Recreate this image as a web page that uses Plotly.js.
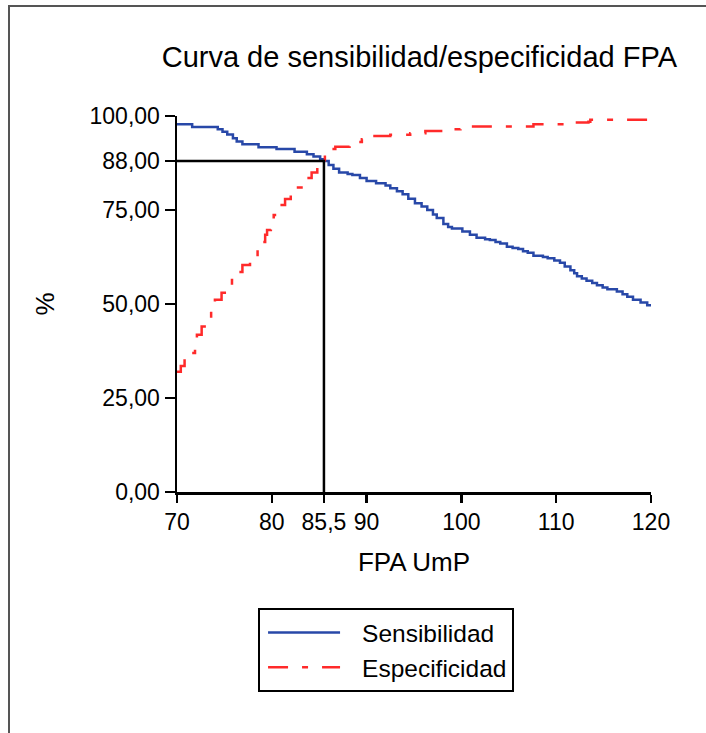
<!DOCTYPE html>
<html>
<head>
<meta charset="utf-8">
<script src="https://cdn.plot.ly/plotly-3.0.1.min.js"></script>
<style>
  html, body { margin: 0; padding: 0; background: #fff; overflow: hidden; }
  #frame { position: absolute; left: 8px; top: 5px; width: 760px; height: 800px; border: 2px solid #555; box-sizing: border-box; }
  #chart { position: absolute; left: 0; top: 0; width: 706px; height: 733px; }
</style>
</head>
<body>
<div id="frame"></div>
<div id="chart"></div>
<script>
// Sensibilidad (step curve)
const sensX = [70, 71.6, 74.3, 74.8, 75.3, 75.9, 76.3, 76.9, 78.6, 80.5, 82.4, 83.7, 84.4, 85.1, 85.5, 86.0, 86.5, 87.1, 88.0, 88.5, 89.3, 90.0, 91.0, 92.0, 92.5, 93.2, 93.8, 94.4, 95.1, 95.8, 96.4, 97.0, 97.4, 98.1, 98.6, 99.0, 100.1, 100.9, 101.6, 102.5, 103.0, 103.6, 104.1, 104.8, 105.4, 106.0, 106.5, 107.0, 107.6, 108.6, 109.1, 109.8, 110.4, 110.9, 111.5, 111.9, 112.2, 112.7, 113.2, 113.8, 114.3, 114.9, 115.4, 116.4, 117.0, 117.5, 118.1, 118.9, 119.6, 120];
const sensY = [97.8, 97.1, 96.5, 95.8, 95.1, 94.1, 93.2, 92.5, 91.7, 91.2, 90.5, 89.8, 89.2, 88.5, 88.0, 87.0, 86.0, 85.0, 84.6, 84.3, 83.5, 82.7, 82.1, 81.5, 80.8, 80.0, 79.2, 78.0, 76.8, 75.9, 75.0, 73.8, 72.9, 71.3, 70.5, 70.1, 69.3, 68.4, 67.6, 67.2, 67.0, 66.5, 66.1, 65.2, 64.9, 64.6, 64.0, 63.6, 62.8, 62.5, 62.2, 61.6, 61.0, 60.0, 59.0, 58.2, 57.4, 56.8, 56.2, 55.6, 55.0, 54.4, 53.9, 53.3, 52.6, 51.9, 51.1, 50.4, 49.7, 49.4];

// Especificidad (step curve)
const espX = [70, 70.4, 70.8, 71.2, 71.9, 72.1, 72.6, 73.2, 73.6, 74.0, 74.7, 75.4, 75.8, 76.4, 76.9, 77.7, 78.2, 78.5, 79.0, 79.3, 79.5, 79.9, 80.2, 80.6, 80.9, 81.4, 82.0, 82.6, 83.3, 83.6, 84.2, 84.8, 85.3, 85.6, 86.1, 86.7, 88.2, 88.8, 89.5, 90.4, 92.5, 94.6, 96.2, 98.1, 99.9, 107.6, 111.2, 113.4, 113.6, 120];
const espY = [32.0, 33.5, 35.5, 37.0, 40.7, 41.8, 44.0, 46.3, 48.5, 51.1, 53.0, 55.0, 56.4, 58.5, 60.4, 61.7, 62.5, 64.4, 66.5, 68.4, 69.7, 71.5, 73.7, 75.0, 76.3, 77.9, 79.5, 81.0, 82.2, 83.5, 85.0, 86.6, 87.8, 89.6, 91.2, 91.8, 92.6, 93.1, 93.8, 94.7, 95.0, 95.4, 96.0, 96.5, 97.2, 97.8, 98.3, 98.5, 99.0, 99.0];

// Cut-off point
const cutX = [70, 85.5, 85.5];
const cutY = [88, 88, 0];

// Tick labels
const xTickVals = [70, 80, 85.5, 90, 100, 110, 120];
const xTickText = ['70', '80', '85,5', '90', '100', '110', '120'];
const yTickVals = [0, 25, 50, 75, 88, 100];
const yTickText = ['0,00', '25,00', '50,00', '75,00', '88,00', '100,00'];

const FONT = '"Liberation Sans", Arial, sans-serif';

const traces = [
  { x: sensX, y: sensY, type: 'scatter', mode: 'lines', name: 'Sensibilidad',
    line: { color: '#2848a8', width: 2.5, shape: 'hv' }, cliponaxis: false },
  { x: espX, y: espY, type: 'scatter', mode: 'lines', name: 'Especificidad',
    line: { color: '#ff2a2a', width: 2.5, shape: 'hv', dash: '20px,14px,6px,14px' }, cliponaxis: false },
  { x: cutX, y: cutY, type: 'scatter', mode: 'lines', showlegend: false, hoverinfo: 'skip',
    line: { color: '#000', width: 2.5 }, cliponaxis: false }
];

const layout = {
  width: 706, height: 733,
  paper_bgcolor: 'rgba(0,0,0,0)', plot_bgcolor: 'rgba(0,0,0,0)',
  margin: { l: 177, r: 55, t: 116, b: 241 },
  font: { family: FONT, color: '#000', size: 23 },
  title: { text: 'Curva de sensibilidad/especificidad FPA', font: { family: FONT, size: 29, color: '#000' },
           xref: 'container', x: 0.594, xanchor: 'center', yref: 'container', y: 0.923, yanchor: 'middle' },
  xaxis: {
    range: [70, 120], tickmode: 'array', tickvals: xTickVals, ticktext: xTickText,
    showgrid: false, zeroline: false, showline: true, linecolor: '#000', linewidth: 2.5,
    ticks: 'outside', ticklen: 8, tickwidth: 2.5, tickcolor: '#000',
    tickfont: { family: FONT, size: 23, color: '#000' },
    title: { text: 'FPA UmP', font: { family: FONT, size: 26, color: '#000' }, standoff: 19 },
    fixedrange: true
  },
  yaxis: {
    range: [0, 100], tickmode: 'array', tickvals: yTickVals, ticktext: yTickText,
    showgrid: false, zeroline: false, showline: true, linecolor: '#000', linewidth: 2.5,
    ticks: 'outside', ticklen: 10, tickwidth: 2.5, tickcolor: '#000',
    tickfont: { family: FONT, size: 23, color: '#000' },
    title: { text: '%', font: { family: FONT, size: 26, color: '#000' }, standoff: 28 },
    fixedrange: true
  },
  showlegend: true,
  legend: {
    x: 0.171, xanchor: 'left', y: -0.3085, yanchor: 'top',
    bordercolor: '#000', borderwidth: 2, bgcolor: '#fff',
    font: { family: FONT, size: 24.5, color: '#000' },
    itemwidth: 92, tracegroupgap: 0
  }
};

Plotly.newPlot('chart', traces, layout, { staticPlot: true, displayModeBar: false }).then(function () {
  // shorten legend line samples to match the reference's sample length
  document.querySelectorAll('#chart .legend .legendlines path').forEach(function (p) {
    p.setAttribute('d', 'M8,0h72');
  });
});
</script>
</body>
</html>
